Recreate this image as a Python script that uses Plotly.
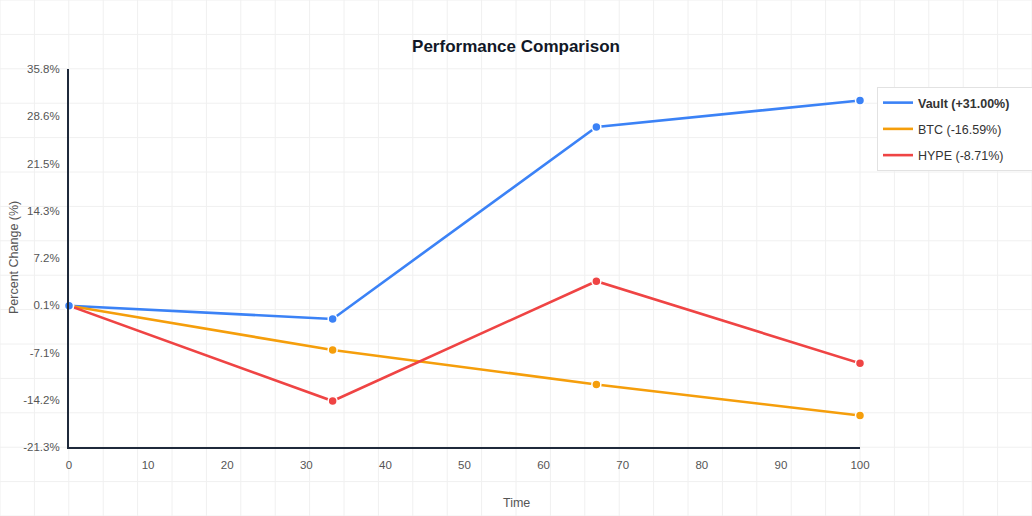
import numpy as np
import plotly.graph_objects as go

# ---- data ----
time = [0, 33.33, 66.67, 100]
vault = [0.0, -2.0, 27.0, 31.0]
btc = [0.0, -6.7, -11.9, -16.59]
hype = [0.0, -14.4, 3.7, -8.71]
series_names = ["<b>Vault (+31.00%)</b>", "BTC (-16.59%)", "HYPE (-8.71%)"]
series_colors = ["#3b82f6", "#f59e0b", "#ef4444"]
y_ticktext = ["-21.3%", "-14.2%", "-7.1%", "0.1%", "7.2%", "14.3%", "21.5%", "28.6%", "35.8%"]
x_tickvals = [0, 10, 20, 30, 40, 50, 60, 70, 80, 90, 100]

# y range padded by 10% of span
all_vals = vault + btc + hype
span = max(all_vals) - min(all_vals)
y_range = [min(all_vals) - 0.1 * span, max(all_vals) + 0.1 * span]
y_tickvals = list(np.linspace(y_range[0], y_range[1], len(y_ticktext)))

W, H = 1032, 516
ML, MR, MT, MB = 69, 172, 69, 69
PW, PH = W - ML - MR, H - MT - MB

series = list(zip([vault, btc, hype], series_names, series_colors))

fig = go.Figure()
for i, (vals, name, col) in enumerate(series):
    fig.add_trace(go.Scatter(x=time, y=vals, mode="lines",
                             name=name + ("&nbsp;" * 5 if i == 0 else ""),
                             line=dict(color=col, width=2.6), legendgroup=f"g{i}"))
for i, (vals, name, col) in reversed(list(enumerate(series))):
    fig.add_trace(go.Scatter(x=time, y=vals, mode="markers", showlegend=False,
                             marker=dict(color=col, size=9, line=dict(color="white", width=1.5)),
                             legendgroup=f"g{i}", cliponaxis=False))

# page background grid (30 x 15 cells)
shapes = []
cell = W / 30
for k in range(31):
    px = k * cell
    xp = (px - ML) / PW
    shapes.append(dict(type="line", xref="paper", yref="paper", x0=xp, x1=xp,
                       y0=-MB / PH, y1=(H - MB) / PH,
                       line=dict(color="#f0f0f0", width=1), layer="below"))
for k in range(16):
    py = k * cell
    yp = (H - MB - py) / PH
    shapes.append(dict(type="line", xref="paper", yref="paper", x0=-ML / PW, x1=(W - ML) / PW,
                       y0=yp, y1=yp, line=dict(color="#f0f0f0", width=1), layer="below"))

fig.update_layout(
    width=W, height=H,
    margin=dict(l=ML, r=MR, t=MT, b=MB, autoexpand=False),
    paper_bgcolor="white", plot_bgcolor="rgba(0,0,0,0)",
    font=dict(family="Liberation Sans, Arial, sans-serif", color="#555", size=11.5),
    title=dict(text="<b>Performance Comparison</b>", x=0.5, xref="container", xanchor="center",
               y=1 - 46 / H, yref="container", yanchor="middle",
               font=dict(size=17, color="#111827")),
    shapes=shapes,
    showlegend=True,
    legend=dict(x=(877 - ML) / PW, y=(H - MB - 87) / PH, xanchor="left", yanchor="top",
                bgcolor="white", bordercolor="#e2e2e2", borderwidth=1,
                font=dict(size=12.5, color="#333"), tracegroupgap=7,
                itemwidth=30),
    annotations=[
        dict(text="Time", xref="paper", yref="paper", x=(W / 2 - ML) / PW, y=-(503 - (H - MB)) / PH,
             showarrow=False, xanchor="center", yanchor="middle",
             font=dict(size=12.5, color="#555")),
        dict(text="Percent Change (%)", xref="paper", yref="paper", x=(14 - ML) / PW,
             y=(H - MB - 257) / PH, textangle=-90, showarrow=False,
             xanchor="center", yanchor="middle", font=dict(size=12.5, color="#555")),
    ],
)
fig.update_xaxes(range=[0, 100], tickvals=x_tickvals, showgrid=False, zeroline=False,
                 showline=True, linecolor="#1e293b", linewidth=2, ticks="", automargin=False,
                 ticklabelstandoff=6, tickfont=dict(size=11.5, color="#555"))
fig.update_yaxes(range=y_range, tickvals=y_tickvals, ticktext=y_ticktext, showgrid=False,
                 zeroline=False, showline=True, linecolor="#1e293b", linewidth=2, ticks="",
                 automargin=False, ticklabelstandoff=5, tickfont=dict(size=11.5, color="#555"))

fig.write_html("out.html", config={"displayModeBar": False},
               post_script="document.body.style.margin='0';document.body.style.padding='0';")
